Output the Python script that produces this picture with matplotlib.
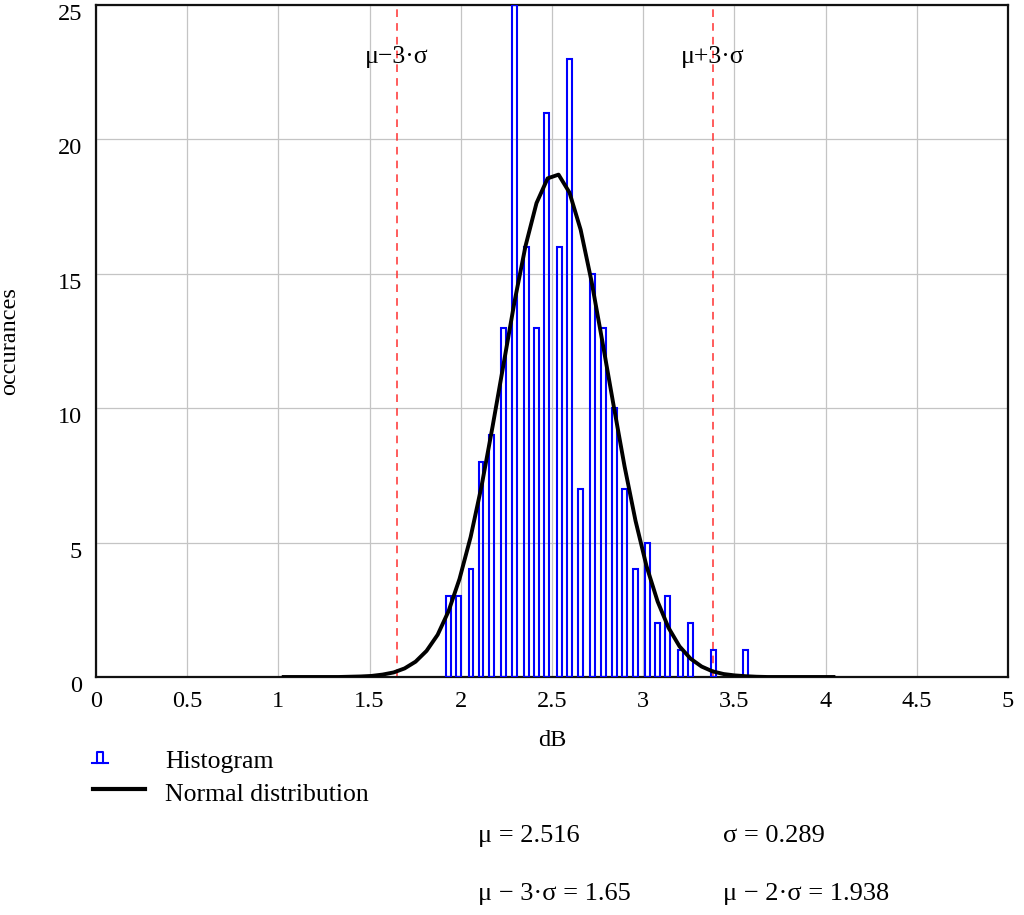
import numpy as np
import matplotlib
matplotlib.use('Agg')
import matplotlib.pyplot as plt
import matplotlib.transforms as mtransforms
from matplotlib.lines import Line2D

plt.rcParams['font.family'] = ['Liberation Serif', 'DejaVu Serif']

# histogram bins (centre, count)
bin_centers = [1.933, 1.987, 2.056, 2.111, 2.168, 2.234, 2.294, 2.360, 2.415,
               2.470, 2.541, 2.596, 2.656, 2.722, 2.782, 2.843, 2.897, 2.958,
               3.024, 3.078, 3.133, 3.205, 3.259, 3.385, 3.561]
counts = [3, 3, 4, 8, 9, 13, 25, 16, 13, 21, 16, 23, 7, 15, 13, 10, 7, 4,
          5, 2, 3, 1, 2, 1, 1]

# normal distribution curve points
curve_x = [1.029, 1.089, 1.149, 1.210, 1.270, 1.330, 1.391, 1.451, 1.511, 1.571,
           1.632, 1.692, 1.752, 1.812, 1.873, 1.933, 1.993, 2.054, 2.114, 2.174,
           2.235, 2.295, 2.355, 2.415, 2.476, 2.536, 2.596, 2.657, 2.717, 2.777,
           2.838, 2.898, 2.958, 3.018, 3.079, 3.139, 3.199, 3.260, 3.320, 3.380,
           3.441, 3.501, 3.561, 3.621, 3.682, 3.742, 3.802, 3.862, 3.923, 3.983,
           4.043]
curve_y = [0.0, 0.0, 0.0, 0.0, 0.0, 0.0, 0.01, 0.02, 0.04, 0.09,
           0.17, 0.32, 0.57, 0.97, 1.57, 2.45, 3.65, 5.21, 7.11, 9.31,
           11.66, 13.98, 16.04, 17.63, 18.55, 18.69, 18.02, 16.64, 14.71, 12.45,
           10.09, 7.83, 5.81, 4.13, 2.81, 1.83, 1.14, 0.68, 0.39, 0.21,
           0.11, 0.06, 0.03, 0.01, 0.0, 0.0, 0.0, 0.0, 0.0, 0.0,
           0.0]

mu = 2.516
sigma = 0.289
mu_m3s = 1.65
mu_m2s = 1.938
mu_p3s = 3.383

W, H = 1024, 915
fig = plt.figure(figsize=(W / 100, H / 100), dpi=100)
ax = fig.add_axes([96 / W, 1 - 677 / H, (1008 - 96) / W, (677 - 5) / H])

ax.bar(bin_centers, counts, width=0.024, fill=False, edgecolor='#0000ff',
       linewidth=1.5, zorder=3)
ax.plot(curve_x, curve_y, color='black', linewidth=2.8, zorder=4)

for xv in [mu_m3s, mu_p3s]:
    ax.axvline(xv, color='#ff3030', linestyle=(0, (5, 4)), linewidth=1.1, zorder=2)
ax.text(mu_m3s, 23.05, 'μ−3·σ', ha='center', va='center', fontsize=18.5)
ax.text(mu_p3s, 23.05, 'μ+3·σ', ha='center', va='center', fontsize=18.5)

ax.set_xlim(0, 5)
ax.set_ylim(0, 25)
ax.set_xticks(np.arange(0, 5.01, 0.5))
ax.set_xticklabels(['0', '0.5', '1', '1.5', '2', '2.5', '3', '3.5', '4', '4.5', '5'])
ax.set_yticks([0, 5, 10, 15, 20, 25])
ax.tick_params(length=0, labelsize=17.5)
ax.tick_params(axis='x', pad=10)
ax.tick_params(axis='y', pad=10)
# y labels sit a little below their grid lines
shift = mtransforms.ScaledTranslation(0, -5 / 72, fig.dpi_scale_trans)
for lab in ax.get_yticklabels():
    lab.set_transform(lab.get_transform() + shift)
ax.grid(True, color='#c4c4c4', linewidth=0.9, zorder=0)
ax.set_axisbelow(True)
for sp in ax.spines.values():
    sp.set_linewidth(1.6)
    sp.set_color('#111111')

fig.text(552 / W, 1 - 741 / H, 'dB', ha='center', va='center', fontsize=17.5)
fig.text(10 / W, 1 - 341 / H, 'occurances', ha='center', va='center',
         rotation=90, fontsize=17.5)

# legend drawn by hand below the plot
def px(x, y):
    return x / W, 1 - y / H

hx, hy = zip(*[px(92, 763), px(108, 763)])
fig.add_artist(Line2D(hx, hy, color='#0000ff', linewidth=1.5))
gx, gy = zip(*[px(97, 763), px(97, 752), px(103, 752), px(103, 763)])
fig.add_artist(Line2D(gx, gy, color='#0000ff', linewidth=1.5))
lx, ly = zip(*[px(93, 789), px(145, 789)])
fig.add_artist(Line2D(lx, ly, color='black', linewidth=3.0))
fig.text(165 / W, 1 - 762 / H, 'Histogram', ha='left', va='center', fontsize=18.5)
fig.text(165 / W, 1 - 795 / H, 'Normal distribution', ha='left', va='center', fontsize=18.5)

fig.text(478 / W, 1 - 836 / H, 'μ = {:.3f}'.format(mu), ha='left', va='center', fontsize=19)
fig.text(723 / W, 1 - 836 / H, 'σ = {:.3f}'.format(sigma), ha='left', va='center', fontsize=19)
fig.text(478 / W, 1 - 894 / H, 'μ − 3·σ = {}'.format(mu_m3s), ha='left', va='center', fontsize=19)
fig.text(723 / W, 1 - 894 / H, 'μ − 2·σ = {}'.format(mu_m2s), ha='left', va='center', fontsize=19)

fig.savefig('out.png', dpi=100)
